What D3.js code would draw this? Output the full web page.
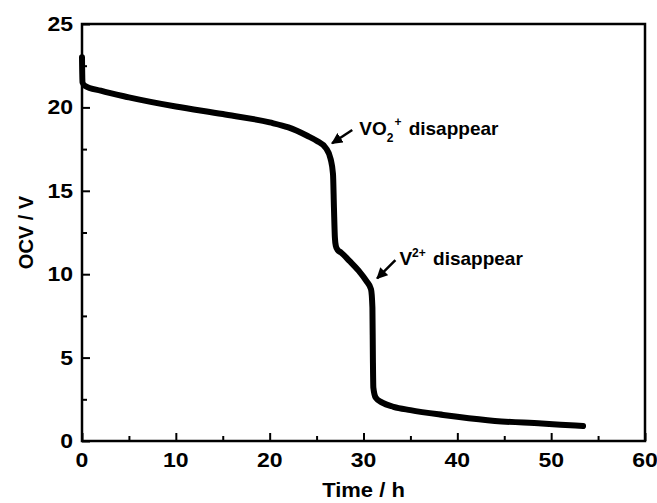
<!DOCTYPE html>
<meta charset="utf-8">
<style>
    body {
        margin: 0;
        background: #fff;
    }
    text {
        font-family: 'Liberation Sans', Arial, sans-serif;
        font-weight: bold;
        fill: #000;
    }
</style>

<body>
    <script src="https://d3js.org/d3.v7.min.js"></script>
    <script>
        // OCV during self-discharge
        var timeH = [0, 0.05, 0.3, 2, 5, 10, 15, 20, 22, 24, 25, 26, 26.5, 26.75, 26.85, 26.95, 27.05, 27.25,
            27.6, 28.5, 29.5, 30.3, 30.8, 30.95, 31.0, 31.05, 31.3, 32, 33.2, 35, 38.5, 40, 44, 49, 51, 53.4]
        var ocv = [23.0, 21.5, 21.3, 21.0, 20.6, 20.05, 19.6, 19.1, 18.8, 18.3, 18.0, 17.55, 16.9, 16.0, 14.0, 12.2, 11.7, 11.45,
            11.3, 10.8, 10.2, 9.6, 9.1, 8.0, 5.0, 3.2, 2.6, 2.3, 2.05, 1.85, 1.56, 1.45, 1.2, 1.05, 0.98, 0.9]

        var xTicks = [0, 10, 20, 30, 40, 50, 60]
        var xMinor = [5, 15, 25, 35, 45, 55]
        var yTicks = [0, 5, 10, 15, 20, 25]
        var yMinor = [2.5, 7.5, 12.5, 17.5, 22.5]

        var width = 657
        var height = 503
        var margin = { left: 82, right: 12, top: 24, bottom: 62 }

        var x = d3.scaleLinear().domain([0, 60]).range([margin.left, width - margin.right])
        var y = d3.scaleLinear().domain([0, 25]).range([height - margin.bottom, margin.top])

        var svg = d3.select('body')
            .append('svg')
            .attr('width', width)
            .attr('height', height)

        var data = timeH.map(function (t, i) { return { t: t, v: ocv[i] } })

        var line = d3.line()
            .x(function (d) { return x(d.t) })
            .y(function (d) { return y(d.v) })
            .curve(d3.curveMonotoneX)

        svg.append('path')
            .datum(data)
            .attr('d', line)
            .attr('fill', 'none')
            .attr('stroke', '#000')
            .attr('stroke-width', 6)
            .attr('stroke-linecap', 'round')
            .attr('stroke-linejoin', 'round')

        // ticks, inward
        var bottomAxis = d3.axisBottom(x).tickValues(xTicks).tickSize(-8).tickFormat('')
        var bottomMinor = d3.axisBottom(x).tickValues(xMinor).tickSize(-5).tickFormat('')
        var leftAxis = d3.axisLeft(y).tickValues(yTicks).tickSize(-8).tickFormat('')
        var leftMinor = d3.axisLeft(y).tickValues(yMinor).tickSize(-5).tickFormat('')

        var gx = svg.append('g').attr('transform', 'translate(0,' + y(0) + ')')
        gx.call(bottomAxis)
        gx.append('g').call(bottomMinor)
        var gy = svg.append('g').attr('transform', 'translate(' + x(0) + ',0)')
        gy.call(leftAxis)
        gy.append('g').call(leftMinor)

        svg.selectAll('.domain').remove()
        svg.selectAll('.tick line').attr('stroke', '#000').attr('stroke-width', 2)

        // frame
        svg.append('rect')
            .attr('x', x(0))
            .attr('y', y(25))
            .attr('width', x(60) - x(0))
            .attr('height', y(0) - y(25))
            .attr('fill', 'none')
            .attr('stroke', '#000')
            .attr('stroke-width', 2.5)

        // tick labels (the source font is a little wide)
        svg.selectAll('.xlab')
            .data(xTicks)
            .enter().append('text')
            .attr('class', 'xlab')
            .attr('transform', function (d) { return 'translate(' + x(d) + ',' + (y(0) + 26) + ') scale(1.15,1)' })
            .attr('text-anchor', 'middle')
            .style('font-size', '20px')
            .text(function (d) { return d })

        svg.selectAll('.ylab')
            .data(yTicks)
            .enter().append('text')
            .attr('class', 'ylab')
            .attr('transform', function (d) { return 'translate(' + (x(0) - 9) + ',' + (y(d) + 7) + ') scale(1.15,1)' })
            .attr('text-anchor', 'end')
            .style('font-size', '20px')
            .text(function (d) { return d })

        svg.append('text')
            .attr('transform', 'translate(' + ((x(0) + x(60)) / 2) + ',497) scale(1.1,1)')
            .attr('text-anchor', 'middle')
            .style('font-size', '20px')
            .text('Time / h')

        svg.append('text')
            .attr('transform', 'translate(33,' + ((y(0) + y(25)) / 2) + ') rotate(-90)')
            .attr('text-anchor', 'middle')
            .style('font-size', '20px')
            .text('OCV / V')

        // annotations
        svg.append('defs').append('marker')
            .attr('id', 'head')
            .attr('viewBox', '0 0 10 10')
            .attr('refX', 9)
            .attr('refY', 5)
            .attr('markerWidth', 4.5)
            .attr('markerHeight', 4.5)
            .attr('orient', 'auto')
            .append('path')
            .attr('d', 'M0,0 L10,5 L0,10 Z')
            .attr('fill', '#000')

        var notes = [
            { tail: [28.8, 18.65], tip: [26.65, 17.85] },
            { tail: [33.4, 10.85], tip: [31.45, 9.75] }
        ]

        svg.selectAll('.arrow')
            .data(notes)
            .enter().append('line')
            .attr('class', 'arrow')
            .attr('x1', function (d) { return x(d.tail[0]) })
            .attr('y1', function (d) { return y(d.tail[1]) })
            .attr('x2', function (d) { return x(d.tip[0]) })
            .attr('y2', function (d) { return y(d.tip[1]) })
            .attr('stroke', '#000')
            .attr('stroke-width', 2.5)
            .attr('marker-end', 'url(#head)')

        var t1 = svg.append('text')
            .attr('x', x(notes[0].tail[0]) + 7)
            .attr('y', y(notes[0].tail[1]) + 5)
            .style('font-size', '19px')
        t1.append('tspan').text('VO')
        t1.append('tspan').attr('dy', 7).style('font-size', '12px').text('2')
        t1.append('tspan').attr('dy', -16).attr('dx', 1).style('font-size', '12px').text('+')
        t1.append('tspan').attr('dy', 9).attr('dx', 2).text(' disappear')

        var t2 = svg.append('text')
            .attr('x', x(notes[1].tail[0]) + 4)
            .attr('y', y(notes[1].tail[1]) + 5)
            .style('font-size', '19px')
        t2.append('tspan').text('V')
        t2.append('tspan').attr('dy', -8).style('font-size', '12px').text('2+')
        t2.append('tspan').attr('dy', 8).attr('dx', 2).text(' disappear')
    </script>
</body>
